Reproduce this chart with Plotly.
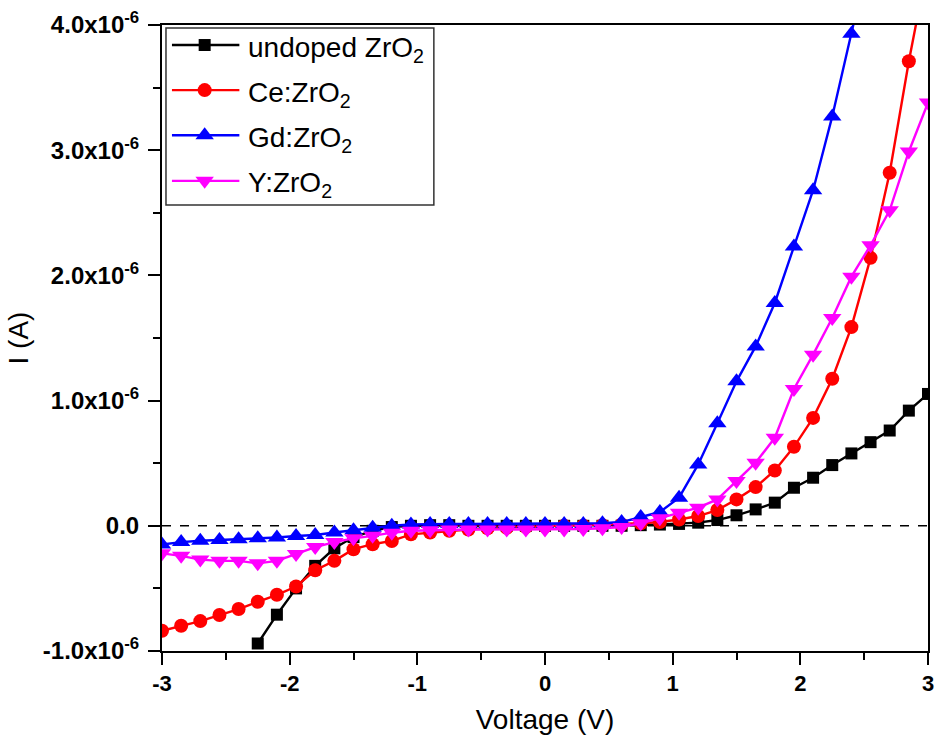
import plotly.graph_objects as go

# Bias voltage (V)
voltage = [-3.0, -2.85, -2.7, -2.55, -2.4, -2.25, -2.1, -1.95, -1.8, -1.65,
           -1.5, -1.35, -1.2, -1.05, -0.9, -0.75, -0.6, -0.45, -0.3, -0.15,
           0.0, 0.15, 0.3, 0.45, 0.6, 0.75, 0.9, 1.05, 1.2, 1.35,
           1.5, 1.65, 1.8, 1.95, 2.1, 2.25, 2.4, 2.55, 2.7, 2.85, 3.0]

# Current in units of 1e-6 A
undoped_uA = [None, None, None, None, None,
              -0.94, -0.71, -0.50, -0.32, -0.18, -0.09, -0.04, -0.01, 0.0, 0.005,
              0.005, 0.0, 0.0, 0.0, 0.0, 0.0, 0.0, 0.0, 0.0, 0.0,
              0.005, 0.01, 0.015, 0.025, 0.046, 0.084, 0.131, 0.185, 0.304, 0.384,
              0.485, 0.578, 0.668, 0.761, 0.92, 1.053]
ce_uA = [-0.838, -0.798, -0.761, -0.713, -0.665, -0.607, -0.551, -0.485, -0.355, -0.280,
         -0.187, -0.147, -0.121, -0.068, -0.054, -0.04, -0.03, -0.02, -0.015, -0.01,
         -0.005, 0.0, 0.0, 0.005, 0.01, 0.02, 0.03, 0.05, 0.078, 0.126,
         0.211, 0.309, 0.442, 0.631, 0.862, 1.175, 1.587, 2.14, 2.82, 3.71, 4.5]
gd_uA = [-0.15, -0.13, -0.12, -0.113, -0.107, -0.10, -0.094, -0.081, -0.073, -0.054,
         -0.036, -0.015, 0.0, 0.01, 0.015, 0.015, 0.015, 0.015, 0.015, 0.015,
         0.015, 0.015, 0.015, 0.02, 0.03, 0.07, 0.11, 0.225, 0.49, 0.82,
         1.154, 1.433, 1.78, 2.23, 2.68, 3.27, 3.93, 4.6, None, None, None]
y_uA = [-0.22, -0.24, -0.27, -0.28, -0.28, -0.30, -0.28, -0.225, -0.17, -0.13,
        -0.10, -0.08, -0.055, -0.04, -0.035, -0.03, -0.03, -0.03, -0.03, -0.03,
        -0.03, -0.03, -0.025, -0.02, -0.01, 0.02, 0.06, 0.105, 0.145, 0.211,
        0.357, 0.504, 0.703, 1.093, 1.367, 1.66, 1.99, 2.24, 2.52, 2.99, 3.38]

series_names = ["undoped ZrO<sub>2</sub>", "Ce:ZrO<sub>2</sub>",
                "Gd:ZrO<sub>2</sub>", "Y:ZrO<sub>2</sub>"]
series_values = [undoped_uA, ce_uA, gd_uA, y_uA]
series_colors = ["#000000", "#FF0000", "#0000FF", "#FF00FF"]
series_symbols = ["square", "circle", "triangle-up", "triangle-down"]
series_sizes = [12, 14, 16, 16]

x_tick_vals = [-3, -2, -1, 0, 1, 2, 3]
x_tick_text = ["-3", "-2", "-1", "0", "1", "2", "3"]
y_tick_vals = [-1e-6, 0.0, 1e-6, 2e-6, 3e-6, 4e-6]
y_tick_text = ["-1.0x10<sup>-6</sup>", "0.0", "1.0x10<sup>-6</sup>",
               "2.0x10<sup>-6</sup>", "3.0x10<sup>-6</sup>", "4.0x10<sup>-6</sup>"]

FONT = "Liberation Sans, Arial, sans-serif"

fig = go.Figure()
for name, vals, col, sym, sz in zip(series_names, series_values, series_colors,
                                    series_symbols, series_sizes):
    fig.add_trace(go.Scatter(
        x=voltage,
        y=[None if v is None else v * 1e-6 for v in vals],
        mode="lines+markers",
        name=name,
        showlegend=False,
        line=dict(color=col, width=2.4),
        marker=dict(symbol=sym, size=sz, color=col, line=dict(width=0)),
    ))

# zero-current reference line
fig.add_shape(type="line", xref="x domain", yref="y", x0=0, x1=1, y0=0, y1=0,
              line=dict(color="black", width=1.5, dash="dash"), layer="below")

# ---- legend box drawn in plot-domain coordinates ----
LEG_LEFT, LEG_RIGHT, LEG_TOP, LEG_BOTTOM = 0.0052, 0.3549, 0.9952, 0.7125
LEG_ROWS = [0.968, 0.896, 0.824, 0.751]
LEG_LINE_X0, LEG_LINE_X1, LEG_MARK_X, LEG_TEXT_X = 0.013, 0.101, 0.0557, 0.1101

fig.add_shape(type="rect", xref="x domain", yref="y domain",
              x0=LEG_LEFT, x1=LEG_RIGHT, y0=LEG_BOTTOM, y1=LEG_TOP,
              line=dict(color="#333333", width=1.5), fillcolor="rgba(0,0,0,0)",
              layer="above")
for name, col, sym, sz, ry in zip(series_names, series_colors, series_symbols,
                                  series_sizes, LEG_ROWS):
    fig.add_shape(type="line", xref="x domain", yref="y domain",
                  x0=LEG_LINE_X0, x1=LEG_LINE_X1, y0=ry, y1=ry,
                  line=dict(color=col, width=2.4), layer="above")
    fig.add_trace(go.Scatter(
        x=[LEG_MARK_X], y=[ry], xaxis="x2", yaxis="y2", mode="markers",
        showlegend=False, hoverinfo="skip",
        marker=dict(symbol=sym, size=sz, color=col, line=dict(width=0)),
    ))
    fig.add_annotation(
        xref="x domain", yref="y domain", x=LEG_TEXT_X, y=ry,
        xanchor="left", yanchor="middle", yshift=-4, showarrow=False,
        text=name, font=dict(family=FONT, size=28, color="black"),
    )

fig.update_layout(
    width=942, height=742,
    margin=dict(l=162, r=8, t=25, b=91),
    paper_bgcolor="white", plot_bgcolor="white",
    font=dict(family=FONT, color="black"),
    showlegend=False,
    xaxis2=dict(overlaying="x", range=[0, 1], visible=False, fixedrange=True),
    yaxis2=dict(overlaying="y", range=[0, 1], visible=False, fixedrange=True),
)

fig.update_layout(xaxis=dict(
    range=[-3, 3], tickmode="array", tickvals=x_tick_vals, ticktext=x_tick_text,
    ticks="outside", ticklen=12, tickwidth=2, tickcolor="black",
    minor=dict(tickmode="array", tickvals=[-2.5, -1.5, -0.5, 0.5, 1.5, 2.5],
               ticks="outside", ticklen=7, tickwidth=2, tickcolor="black"),
    showline=True, linecolor="black", linewidth=2, mirror=True,
    showgrid=False, zeroline=False,
    tickfont=dict(family=FONT, size=22, weight="bold"),
    title=dict(text="Voltage (V)", font=dict(family=FONT, size=28), standoff=14),
))
fig.update_layout(yaxis=dict(
    range=[-1e-6, 4e-6], tickmode="array", tickvals=y_tick_vals, ticktext=y_tick_text,
    ticks="outside", ticklen=12, tickwidth=2, tickcolor="black",
    minor=dict(tickmode="array",
               tickvals=[-0.5e-6, 0.5e-6, 1.5e-6, 2.5e-6, 3.5e-6],
               ticks="outside", ticklen=7, tickwidth=2, tickcolor="black"),
    showline=True, linecolor="black", linewidth=2, mirror=True,
    showgrid=False, zeroline=False, ticklabelstandoff=4,
    tickfont=dict(family=FONT, size=24, weight="bold"),
    title=dict(text="I (A)", font=dict(family=FONT, size=28), standoff=6),
))

fig.write_html("out.html")
